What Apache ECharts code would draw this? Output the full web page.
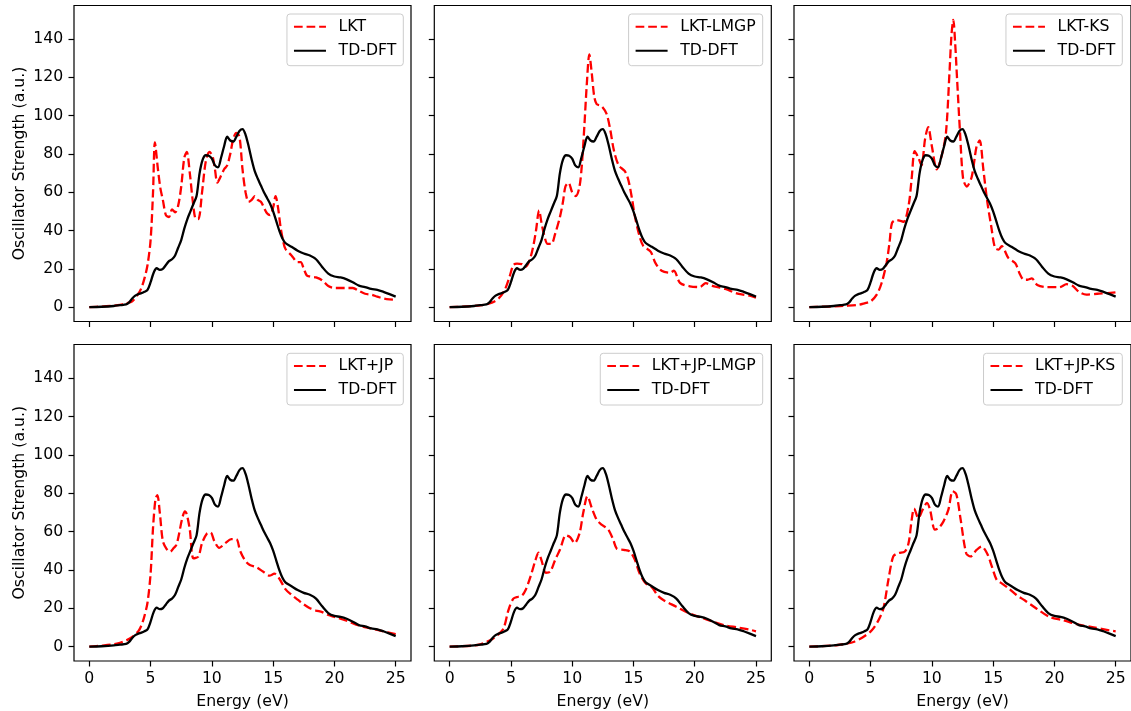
<!DOCTYPE html>
<html>
<head>
<meta charset="utf-8">
<script src="https://cdn.jsdelivr.net/npm/echarts@6/dist/echarts.min.js"></script>
<style>
html,body{margin:0;padding:0;background:#fff;}
#chart{width:1131px;height:711px;}
</style>
</head>
<body>
<div id="chart"></div>
<script>
// ---------------- DATA ----------------
const xTickLabels = [0, 5, 10, 15, 20, 25];
const yTickLabels = [0, 20, 40, 60, 80, 100, 120, 140];
const panelNames = ['LKT', 'LKT-LMGP', 'LKT-KS', 'LKT+JP', 'LKT+JP-LMGP', 'LKT+JP-KS'];
const refName = 'TD-DFT';
const xLabel = 'Energy (eV)';
const yLabel = 'Oscillator Strength (a.u.)';

const tddftE = [0,1,2,2.5,3,3.25,3.5,3.75,4,4.25,4.5,4.75,5,5.25,5.5,5.75,6,6.25,6.5,6.75,7,7.25,7.5,7.75,8,8.25,8.5,8.75,9,9.25,9.5,9.75,10,10.25,10.5,10.75,11,11.25,11.5,11.75,12,12.25,12.5,12.75,13,13.25,13.5,13.75,14,14.25,14.5,14.75,15,15.25,15.5,15.75,16,16.5,17,17.5,18,18.5,19,19.5,20,20.5,21,21.5,22,22.5,23,23.5,24,24.5,25];
const tddftV = [0,0.2,0.6,1.0,1.4,2.5,4.5,6,6.8,7.3,8,9,13,18,20.3,19.5,20,22,24,25,27,31,35,41,46,50,54,58,70,77,79.3,79,77.5,74,73,78,84,89,87,86.5,89,92,93,90,84,77,71,67,63.5,60,57,54,50,45,40,36,33.5,31.5,29.5,28,27,25,21,17.5,16,15.5,14.5,13,11.2,10.5,9.5,9,8,6.8,5.5];

const lktE = [0,1,2,2.5,3,3.5,4,4.25,4.5,4.75,5,5.2,5.35,5.6,5.8,6,6.25,6.5,6.75,7,7.25,7.5,7.75,7.95,8.2,8.45,8.7,8.9,9.2,9.5,9.8,10.05,10.25,10.45,10.7,11,11.25,11.5,11.75,12,12.25,12.5,12.75,13,13.25,13.5,13.75,14,14.25,14.5,14.75,15,15.2,15.4,15.6,15.8,16,16.5,17,17.25,17.5,17.75,18,18.5,19,19.5,20,20.5,21,21.5,22,22.5,23,23.5,24,24.5,25];
const lktV = [0,0.3,0.8,1.2,2,3,7,10,15,22,35,60,86,72,62,56,48,47,51,49.5,53,63,78,81,70,55,46,46,60,76,81,79,72,65,68,72,74,80,88,91,89,72,60,55,56,58,56,55,52,49,48,52,58,52,42,35,30.5,27,23.5,23.5,20,16.5,16,15.5,14,11,10,10,10,10,8.5,7,6.5,5.5,4.5,4,3.8];

const lmgpE = [0,1,2,2.5,3,3.5,4,4.5,4.9,5.2,5.5,5.9,6.2,6.5,6.8,7.05,7.3,7.5,7.7,8.0,8.3,8.6,9.0,9.25,9.45,9.7,10.0,10.3,10.6,10.8,11.0,11.2,11.4,11.6,11.8,12.0,12.4,12.8,13.1,13.4,13.8,14.3,14.6,14.9,15.1,15.5,15.8,16.4,16.8,17.3,18,18.3,18.8,19.6,20.4,20.9,21.5,22.5,23.5,24.5,25];
const lmgpV = [0,0.2,0.6,0.9,1.5,2.5,4.5,9,16,22,22.7,22.5,21,24,31,40,50.5,44,38,33,33,38,47,55,63,65,60,58,63,75,95,117,132,122,110,106,105,101,93,82,74,71,66,56,48,37,32,29,23,19,18,19,12.7,10.9,10.5,12.5,11,9.5,7,6,5];

const ksE = [0,1,2,3,4,4.5,5,5.5,5.9,6.3,6.55,6.75,7.1,7.45,7.7,8.1,8.35,8.6,8.9,9.15,9.45,9.7,10.0,10.4,10.8,11.15,11.45,11.6,11.75,11.9,12.05,12.3,12.55,12.85,13.25,13.65,13.9,14.2,14.5,14.85,15.15,15.45,15.7,16.25,16.8,17.2,17.5,17.8,18.15,18.6,19.4,20.4,21,21.5,22,22.6,23.5,24.3,25];
const ksV = [0,0.2,0.4,0.7,1.2,2,3,6.5,12.6,23,34,44,45.5,45,44.5,53,67,81.5,78,74,88,94,84,72,79,91,124,142,150,138,120,91,67,63,68,84,87,72,56,42,31,30,31.8,25.6,23,17,14.3,14.3,15,11.6,10.4,10.4,12,11,8,6.5,7,7.3,7.7];

const jpE = [0,1,2,2.5,3,3.5,4,4.25,4.5,4.75,5,5.2,5.4,5.55,5.75,6,6.3,6.6,6.9,7.1,7.3,7.55,7.8,7.95,8.2,8.5,8.9,9.2,9.6,9.9,10.2,10.6,11.1,11.6,12.0,12.3,12.7,13.1,13.6,14.2,14.7,15.1,15.5,16,16.5,17,17.5,18,18.5,19,19.5,20,21,22,23,24,25];
const jpV = [0,0.5,1.2,2,3.2,5,8,11,16,23,38,62,77,79,70,55,51,49.5,51.5,53,58,66,70.5,69,61,46,47,54,59,59.5,55,51.5,54,56,56,50,45,42.5,41.5,39,37,38,35.5,30,27,24.5,22,20,18.8,18,16.5,15.5,13.5,11,9.5,8,6.5];

const jpLmgpE = [0,1,2,2.5,3,3.5,4,4.4,4.8,5.2,5.6,5.9,6.2,6.6,7.0,7.25,7.5,7.85,8.2,8.6,9.0,9.5,9.85,10.2,10.6,10.9,11.25,11.6,12.0,12.4,12.95,13.35,13.65,14.2,14.7,15.1,15.5,16.0,16.5,17,17.5,18.5,19.5,20.5,21.5,22.5,23.5,24.5,25];
const jpLmgpV = [0,0.2,0.6,1.2,2.4,4,6.5,9.4,19,25,26,26.5,29.5,36.5,45,49,45,38.5,39,45,50.5,58,57,54,59,69.6,78.4,72.3,66.2,63.6,61,55.7,51,50.4,49.6,45.5,38.2,33,31,26.5,24,20.8,17.5,15.2,13,11,10,8.8,8];

const jpKsE = [0,1,2,2.5,3,3.6,4.4,5.1,5.65,6.05,6.45,6.85,7.25,7.8,8.1,8.35,8.55,8.9,9.25,9.6,9.85,10.25,10.55,10.95,11.35,11.7,12.0,12.35,12.8,13.15,13.65,14.05,14.5,14.9,15.3,15.7,16.25,16.9,17.6,18.5,19.6,20.7,21.8,23.2,24.5,25];
const jpKsV = [0,0.2,0.6,1.0,1.5,2.4,5,8.5,13.8,20,34.7,47,48.7,49.6,54,66,72,67,71.4,74.9,71.4,61,61.8,65.3,71.4,81,79.3,66.2,48.7,47,50.4,52.2,48.7,41.7,34.7,33,30.4,26.9,24,20,15.5,13.8,11.7,10,8.5,8];

const redE = [lktE, lmgpE, ksE, jpE, jpLmgpE, jpKsE];
const redV = [lktV, lmgpV, ksV, jpV, jpLmgpV, jpKsV];

// ---------------- LAYOUT / STYLE ----------------
const FONT = 'DejaVu Sans';
const FS = 15.7;
const colLeft = [74, 434.3, 794];
const colWidth = 337;
const rowTop = [5.5, 344.5];
const rowHeight = [316, 316.5];
const legendRight = [727.7, 368.3, 8.7];
const legendTop = [14, 353.3];

function zip(a, b) { return a.map((v, i) => [v, b[i]]); }

const grids = [], xAxes = [], yAxes = [], series = [], legends = [];
for (let p = 0; p < 6; p++) {
  const r = Math.floor(p / 3), c = p % 3;
  grids.push({
    left: colLeft[c], top: rowTop[r], width: colWidth, height: rowHeight[r],
    show: true, borderColor: '#000', borderWidth: 1.2, backgroundColor: 'transparent'
  });
  xAxes.push({
    type: 'value', gridIndex: p, min: -1.25, max: 26.25, position: 'bottom',
    axisLine: { show: false, onZero: false }, splitLine: { show: false },
    axisTick: { show: true, customValues: xTickLabels, length: 5.5, lineStyle: { color: '#000', width: 1.2 } },
    axisLabel: { show: r === 1, customValues: xTickLabels, margin: 10, color: '#000', fontFamily: FONT, fontSize: FS },
    name: r === 1 ? xLabel : '', nameLocation: 'middle', nameGap: 33, nameMoveOverlap: false,
    nameTextStyle: { color: '#000', fontFamily: FONT, fontSize: FS }
  });
  yAxes.push({
    type: 'value', gridIndex: p, min: -7.5, max: 157.5, position: 'left',
    axisLine: { show: false, onZero: false }, splitLine: { show: false },
    axisTick: { show: true, customValues: yTickLabels, length: 5.5, lineStyle: { color: '#000', width: 1.2 } },
    axisLabel: { show: c === 0, customValues: yTickLabels, margin: 10.7, color: '#000', fontFamily: FONT, fontSize: FS },
    name: c === 0 ? yLabel : '', nameLocation: 'middle', nameGap: 46, nameMoveOverlap: false,
    nameTextStyle: { color: '#000', fontFamily: FONT, fontSize: FS }
  });
  series.push({
    name: panelNames[p], type: 'line', xAxisIndex: p, yAxisIndex: p,
    data: zip(redE[p], redV[p]), symbol: 'none', showSymbol: false, smooth: 0.3,
    color: '#ff0000', lineStyle: { color: '#ff0000', width: 2.3, type: [8.7, 3.9] }
  });
  series.push({
    name: refName, type: 'line', xAxisIndex: p, yAxisIndex: p,
    data: zip(tddftE, tddftV), symbol: 'none', showSymbol: false, smooth: 0.3,
    color: '#000000', lineStyle: { color: '#000000', width: 2.3, type: 'solid' }
  });
  legends.push({
    data: [panelNames[p], refName], orient: 'vertical',
    right: legendRight[c], top: legendTop[r],
    itemWidth: 32, itemHeight: 16, itemGap: 8,
    padding: [4.7, 7, 7, 6],
    backgroundColor: 'rgba(255,255,255,0.8)', borderColor: '#cccccc', borderWidth: 1, borderRadius: 3,
    selectedMode: false,
    itemStyle: { opacity: 0, borderWidth: 0 },
    textStyle: { color: '#000', fontFamily: FONT, fontSize: FS, lineHeight: 16, padding: [0, 0, 0, 7.6] }
  });
}

const chart = echarts.init(document.getElementById('chart'), null, { renderer: 'canvas' });
chart.setOption({
  animation: false,
  backgroundColor: '#ffffff',
  grid: grids, xAxis: xAxes, yAxis: yAxes, series: series, legend: legends
});
</script>
</body>
</html>
